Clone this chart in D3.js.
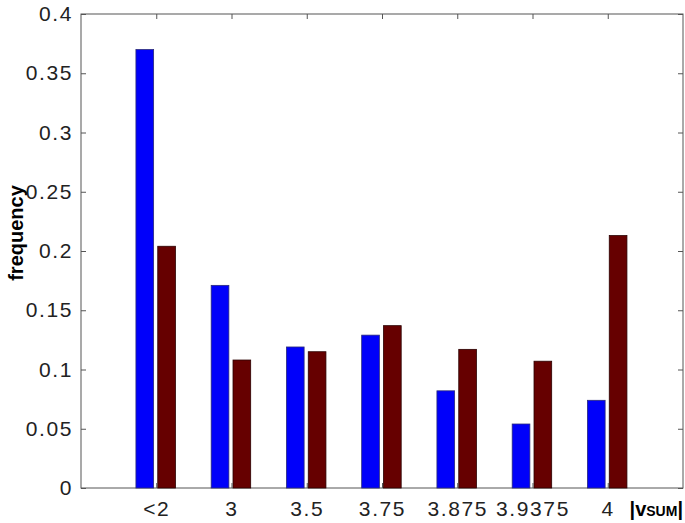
<!DOCTYPE html>
<html>
<head>
<meta charset="utf-8">
<script src="https://cdn.jsdelivr.net/npm/d3@7"></script>
<style>
  body { margin: 0; background: #fff; }
  .axis text { font-family: "Liberation Sans", Arial, sans-serif; font-size: 21px; letter-spacing: 1.6px; fill: #222; }
  .axis path, .axis line { stroke: #555; }
</style>
</head>
<body>
<div class="chart"></div>
<script>
var categories = ["<2", "3", "3.5", "3.75", "3.875", "3.9375", "4"];
var blueValues = [0.370, 0.171, 0.119, 0.129, 0.082, 0.054, 0.074];
var redValues = [0.204, 0.108, 0.115, 0.137, 0.117, 0.107, 0.213];
var yTicks = [0, 0.05, 0.1, 0.15, 0.2, 0.25, 0.3, 0.35, 0.4];

var svgWidth = 685;
var svgHeight = 523;
var margin = { top: 14, right: 2, bottom: 35, left: 81 };
var width = svgWidth - margin.left - margin.right;
var height = svgHeight - margin.top - margin.bottom;

var svg = d3.select(".chart")
    .append("svg")
    .attr("width", svgWidth)
    .attr("height", svgHeight);

var chart = svg.append("g")
    .attr("transform", "translate(" + margin.left + "," + margin.top + ")");

var xScale = d3.scaleLinear().domain([0, 8]).range([0, width]);
var yScale = d3.scaleLinear().domain([0, 0.4]).range([height, 0]);

// plot frame
chart.append("rect")
    .attr("width", width)
    .attr("height", height)
    .attr("fill", "none")
    .attr("stroke", "#555");

var series = [
    { values: blueValues, color: "#0000fa", edge: "#2a2a7a", from: -0.27, to: -0.035 },
    { values: redValues, color: "#660000", edge: "#2a0000", from: 0.02, to: 0.255 }
];

series.forEach(function(s) {
    chart.append("g")
        .selectAll("rect")
        .data(s.values)
        .enter()
        .append("rect")
        .attr("x", function(d, i) { return xScale(i + 1 + s.from); })
        .attr("width", function(d, i) { return xScale(i + 1 + s.to) - xScale(i + 1 + s.from); })
        .attr("y", function(d) { return yScale(d); })
        .attr("height", function(d) { return yScale(0) - yScale(d); })
        .attr("fill", s.color)
        .attr("stroke", s.edge)
        .attr("stroke-width", 0.8);
});

var xValues = categories.map(function(c, i) { return i + 1; });

var bottomAxis = d3.axisBottom(xScale)
    .tickValues(xValues)
    .tickFormat(function(d) { return categories[d - 1]; })
    .tickSizeInner(-5)
    .tickSizeOuter(0)
    .tickPadding(13);

var topAxis = d3.axisTop(xScale)
    .tickValues(xValues)
    .tickFormat("")
    .tickSizeInner(-5)
    .tickSizeOuter(0);

var leftAxis = d3.axisLeft(yScale)
    .tickValues(yTicks)
    .tickFormat(function(d) { return d === 0 ? "0" : String(+d.toFixed(2)); })
    .tickSizeInner(-5)
    .tickSizeOuter(0)
    .tickPadding(8);

var rightAxis = d3.axisRight(yScale)
    .tickValues(yTicks)
    .tickFormat("")
    .tickSizeInner(-5)
    .tickSizeOuter(0);

chart.append("g")
    .attr("class", "axis x-axis")
    .attr("transform", "translate(0," + height + ")")
    .call(bottomAxis);

chart.append("g")
    .attr("class", "axis")
    .call(topAxis);

chart.append("g")
    .attr("class", "axis y-axis")
    .call(leftAxis);

chart.append("g")
    .attr("class", "axis")
    .attr("transform", "translate(" + width + ",0)")
    .call(rightAxis);

chart.selectAll(".axis path").remove();

// y axis title
svg.append("text")
    .attr("transform", "translate(23," + 233 + ") rotate(-90)")
    .attr("text-anchor", "middle")
    .style("font-family", "'Liberation Sans', Arial, sans-serif")
    .style("font-weight", "bold")
    .style("font-size", "20px")
    .style("fill", "#000")
    .text("frequency");

// x axis title |vSUM|
var xTitle = svg.append("text")
    .attr("x", 683)
    .attr("y", 516)
    .attr("text-anchor", "end")
    .style("font-family", "'Liberation Sans', Arial, sans-serif")
    .style("font-weight", "bold")
    .style("font-size", "20px")
    .style("fill", "#000");
xTitle.append("tspan").text("|v");
xTitle.append("tspan").style("font-size", "14px").text("SUM");
xTitle.append("tspan").text("|");
</script>
</body>
</html>
